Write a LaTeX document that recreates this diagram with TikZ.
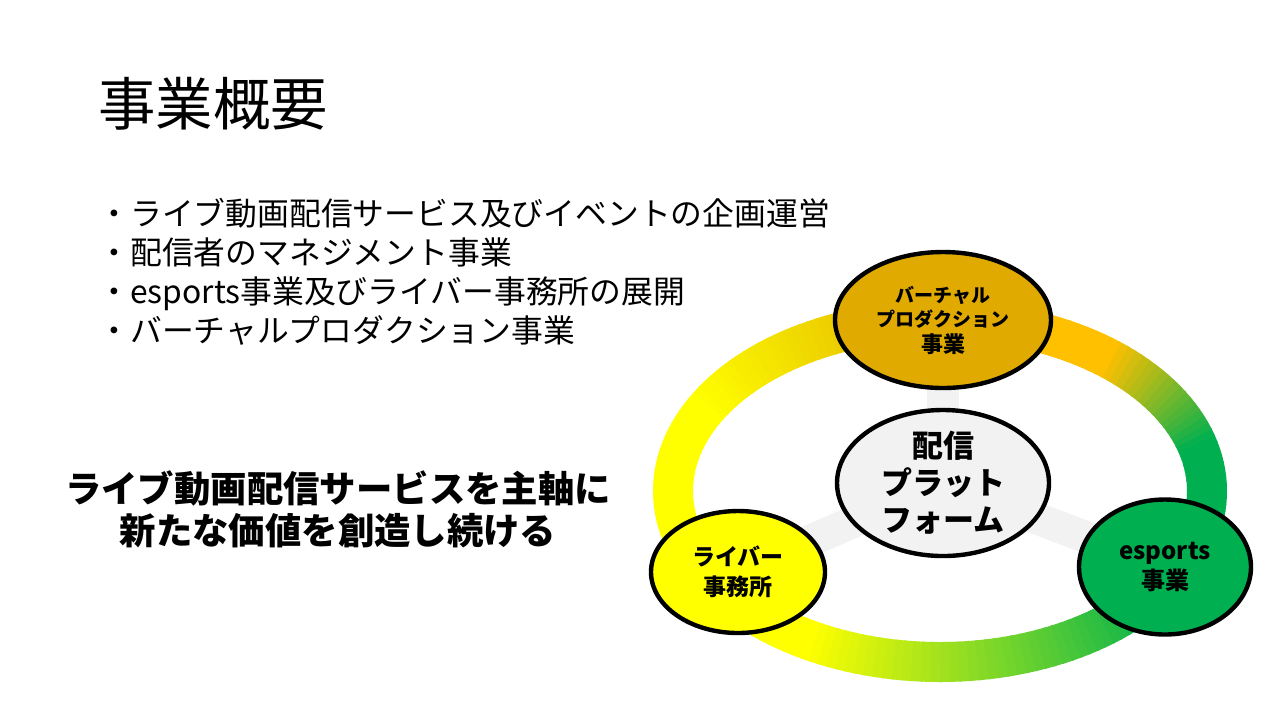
\documentclass[tikz,border=0pt]{standalone}
\usepackage{fontspec}
\setmainfont{Noto Sans CJK JP}
\usetikzlibrary{shapes.geometric,backgrounds}
\definecolor{ringgold}{HTML}{E2B400}
\definecolor{ringorange}{HTML}{FFC000}
\definecolor{ringgreen}{HTML}{00B050}
\definecolor{ringyellow}{HTML}{FFFF00}
\definecolor{vpfill}{HTML}{E0AA00}
\definecolor{hubfill}{HTML}{F2F2F2}
\tikzset{
  biz/.style={ellipse, draw=black, line width=2.2pt, inner sep=0pt, align=center},
  spoke/.style={draw=hubfill, line width=16pt},
  seg/.style={line width=20pt},
}
\begin{document}
\begin{tikzpicture}[x=0.5pt,y=-0.5pt]
	\useasboundingbox (0,0) rectangle (1280,720);
	% texts on the left
	\node[anchor=west, inner sep=0pt, font=\fontsize{28.7}{34}\selectfont] (title) at (98,104) {事業概要};
	\node[anchor=west, inner sep=0pt, align=left, font=\fontsize{15.9}{19.5}\selectfont] (items) at (98,271.5)
		{・ライブ動画配信サービス及びイベントの企画運営\\・配信者のマネジメント事業\\・esports事業及びライバー事務所の展開\\・バーチャルプロダクション事業};
	\node[inner sep=0pt, align=center, font=\bfseries\fontsize{18.2}{21}\selectfont] (motto) at (338,509)
		{ライブ動画配信サービスを主軸に\\新たな価値を創造し続ける};
	% the business nodes
	\node[biz, fill=vpfill, minimum width=108pt, minimum height=68pt] (vp) at (943,320)
		{\bfseries\fontsize{9.5}{11.5}\selectfont バーチャル\\\bfseries\fontsize{9.5}{11.5}\selectfont プロダクション\\[1pt]\bfseries\fontsize{11}{13}\selectfont 事業};
	\node[biz, fill=hubfill, minimum width=106pt, minimum height=67pt, font=\bfseries\fontsize{15.5}{18.5}\selectfont] (hub) at (943,483)
		{配信\\プラット\\フォーム};
	\node[biz, fill=ringgreen, minimum width=86pt, minimum height=67.5pt, font=\bfseries\fontsize{12}{15}\selectfont] (es) at (1165,567)
		{esports\\事業};
	\node[biz, fill=ringyellow, minimum width=87pt, minimum height=61pt, font=\bfseries\fontsize{11.5}{15}\selectfont] (lv) at (738,572)
		{ライバー\\事務所};
	\begin{pgfonlayer}{background}
		\fill[white] (0,0) rectangle (1280,720);
		% ring, right part
		\foreach \a in {-28,-26,...,90}{
			\pgfmathsetmacro{\p}{max(0,min(100,(\a-15)*100/35))}
			\pgfmathsetmacro{\b}{\a+2.5}
			\draw[seg, color=ringorange!\p!ringgreen] plot[domain=\a:\b, samples=4, variable=\t] ({940+267*cos(\t)},{491-171*sin(\t)});
		}
		% ring, left part
		\foreach \a in {90,92,...,210}{
			\pgfmathsetmacro{\p}{max(0,min(100,(150-\a)*100/60))}
			\pgfmathsetmacro{\b}{\a+2.5}
			\draw[seg, color=ringgold!\p!ringyellow] plot[domain=\a:\b, samples=4, variable=\t] ({940+267*cos(\t)},{491-171*sin(\t)});
		}
		% ring, bottom part
		\foreach \a in {210,212,...,332}{
			\pgfmathsetmacro{\p}{max(0,min(100,(\a-240)*100/80))}
			\pgfmathsetmacro{\b}{\a+2.5}
			\draw[seg, color=ringgreen!\p!ringyellow] plot[domain=\a:\b, samples=4, variable=\t] ({940+267*cos(\t)},{491-171*sin(\t)});
		}
		\draw[spoke] (hub.center) -- (vp.center);
		\draw[spoke] (hub.center) -- (es.center);
		\draw[spoke] (hub.center) -- (lv.center);
	\end{pgfonlayer}
\end{tikzpicture}
\end{document}
